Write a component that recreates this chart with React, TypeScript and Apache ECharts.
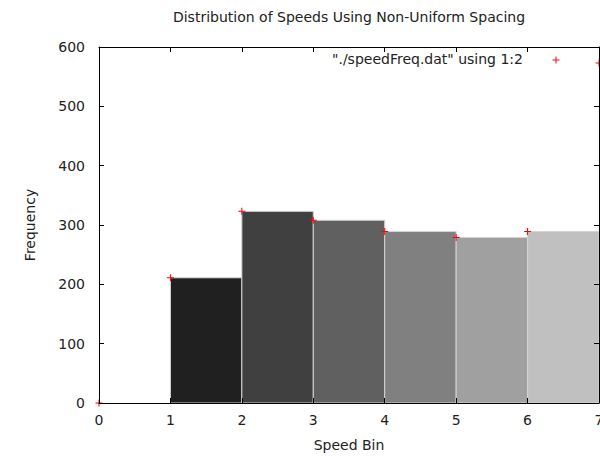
import React, { useEffect, useRef } from "react";
import * as echarts from "echarts";

// Data
const speedBins = [0, 1, 2, 3, 4, 5, 6, 7];
const frequencies = [0, 211, 323, 308, 289, 279, 289, 573];
const xTickValues = [0, 1, 2, 3, 4, 5, 6, 7];
const yTickValues = [0, 100, 200, 300, 400, 500, 600];
const titleText = "Distribution of Speeds Using Non-Uniform Spacing";
const legendText = '"./speedFreq.dat" using 1:2';
const xName = "Speed Bin";
const yName = "Frequency";

// Styles
const barColors = ["#000000", "#202020", "#404040", "#606060", "#808080", "#a0a0a0", "#c0c0c0"];
const FONT = "'DejaVu Sans', sans-serif";
const TEXT_COLOR = "#222";
const FS = 14;

export default function App() {
  const ref = useRef<HTMLDivElement>(null);

  useEffect(() => {
    if (!ref.current) return;
    const chart = echarts.init(ref.current, undefined, { renderer: "svg" });

    // boxes: from bin i to bin i+1 with height frequencies[i]
    const boxData: number[][] = [];
    for (let i = 0; i < speedBins.length - 1; i++) {
      if (frequencies[i] > 0) boxData.push([speedBins[i], speedBins[i + 1], frequencies[i], i]);
    }
    const pointData = speedBins.map((x, i) => [x, frequencies[i]]);

    const axisCommon = {
      type: "value" as const,
      axisLine: { show: true, onZero: false, lineStyle: { color: "#000", width: 1 } },
      axisTick: { show: true, inside: true, length: 5, lineStyle: { color: "#000", width: 1 } },
      splitLine: { show: false },
      z: 10,
    };

    const xMin = xTickValues[0];
    const xMax = xTickValues[xTickValues.length - 1];
    const xInt = xTickValues[1] - xTickValues[0];
    const yMin = yTickValues[0];
    const yMax = yTickValues[yTickValues.length - 1];
    const yInt = yTickValues[1] - yTickValues[0];

    chart.setOption({
      animation: false,
      backgroundColor: "#fff",
      textStyle: { fontFamily: FONT },
      grid: { left: 99, right: 1, top: 47, bottom: 55, containLabel: false, outerBoundsMode: "none" },
      xAxis: [
        {
          ...axisCommon,
          position: "bottom",
          min: xMin,
          max: xMax,
          interval: xInt,
          axisLabel: { show: true, fontSize: FS, color: TEXT_COLOR, margin: 10, fontFamily: FONT },
          name: xName,
          nameLocation: "middle",
          nameGap: 35,
          nameTextStyle: { fontSize: FS, color: TEXT_COLOR, fontFamily: FONT },
        },
        {
          ...axisCommon,
          position: "top",
          min: xMin,
          max: xMax,
          interval: xInt,
          axisLabel: { show: false },
        },
      ],
      yAxis: [
        {
          ...axisCommon,
          position: "left",
          min: yMin,
          max: yMax,
          interval: yInt,
          axisLabel: { show: true, fontSize: FS, color: TEXT_COLOR, margin: 14, fontFamily: FONT },
          name: yName,
          nameLocation: "middle",
          nameGap: 62,
          nameRotate: 90,
          nameTextStyle: { fontSize: FS, color: TEXT_COLOR, fontFamily: FONT },
        },
        {
          ...axisCommon,
          position: "right",
          min: yMin,
          max: yMax,
          interval: yInt,
          axisLabel: { show: false },
        },
      ],
      graphic: [
        {
          type: "text",
          x: 349,
          y: 17,
          z: 20,
          style: {
            text: titleText,
            textAlign: "center",
            textVerticalAlign: "middle",
            fontSize: FS,
            fill: TEXT_COLOR,
            fontFamily: FONT,
          },
        },
        {
          type: "text",
          x: 523,
          y: 59,
          z: 20,
          style: {
            text: legendText,
            textAlign: "right",
            textVerticalAlign: "middle",
            fontSize: FS,
            fill: TEXT_COLOR,
            fontFamily: FONT,
          },
        },
        {
          type: "group",
          x: 552.5,
          y: 56.5,
          z: 20,
          children: [
            { type: "line", shape: { x1: 0, y1: 3.5, x2: 7, y2: 3.5 }, style: { stroke: "#ff0000", lineWidth: 1 } },
            { type: "line", shape: { x1: 3.5, y1: 0, x2: 3.5, y2: 7 }, style: { stroke: "#ff0000", lineWidth: 1 } },
          ],
        },
      ],
      series: [
        {
          type: "custom",
          xAxisIndex: 0,
          yAxisIndex: 0,
          data: boxData,
          encode: { x: [0, 1], y: 2 },
          z: 2,
          renderItem: (params: any, api: any) => {
            const x0 = api.value(0);
            const x1 = api.value(1);
            const y = api.value(2);
            const idx = api.value(3);
            const p0 = api.coord([x0, y]);
            const p1 = api.coord([x1, 0]);
            return {
              type: "rect",
              shape: { x: p0[0], y: p0[1], width: p1[0] - p0[0], height: p1[1] - p0[1] },
              style: { fill: barColors[idx], stroke: "#d4d4d4", lineWidth: 1 },
            };
          },
        },
        {
          type: "scatter",
          xAxisIndex: 0,
          yAxisIndex: 0,
          data: pointData,
          clip: false,
          z: 5,
          symbol: "path://M0,3H3V0H4V3H7V4H4V7H3V4H0Z",
          symbolSize: 7,
          itemStyle: { color: "#ff0000", opacity: 1 },
        },
      ],
    });

    return () => chart.dispose();
  }, []);

  return (
    <div
      ref={ref}
      style={{ position: "fixed", left: 0, top: 0, width: 600, height: 458 }}
    />
  );
}
